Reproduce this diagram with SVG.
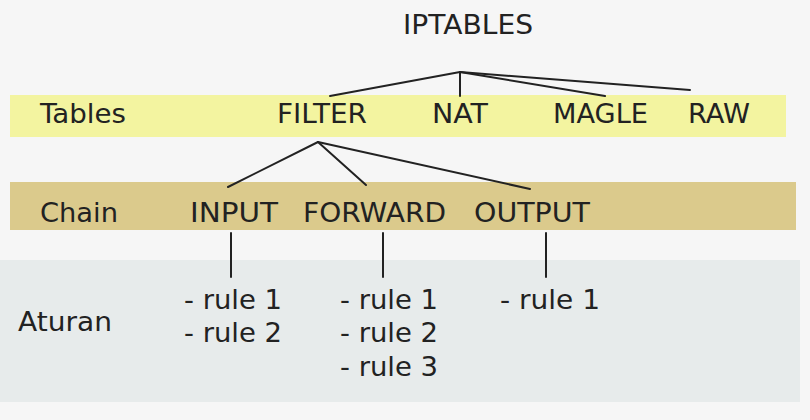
<svg xmlns="http://www.w3.org/2000/svg" width="810" height="420" viewBox="0 0 810 420">
<style>
.t{font-family:"DejaVu Sans","Liberation Sans",sans-serif;font-size:27px;fill:#222}
.c{stroke:#222;stroke-width:2;fill:none;stroke-linecap:round}
</style>
<rect x="0" y="0" width="810" height="420" fill="#f6f6f6"/>
<rect id="band-aturan" x="0" y="260" width="800" height="142" fill="#e7ebeb"/>
<rect id="band-tables" x="10" y="95" width="776" height="42" fill="#f3f4a0"/>
<rect id="band-chain" x="10" y="182" width="786" height="48" fill="#dbca8c"/>
<g id="connectors">
<line class="c" x1="460" y1="72" x2="330" y2="96"/>
<line class="c" x1="460" y1="72" x2="460" y2="96"/>
<line class="c" x1="460" y1="72" x2="605" y2="96"/>
<line class="c" x1="460" y1="72" x2="690" y2="90"/>
<line class="c" x1="318" y1="142" x2="228" y2="187"/>
<line class="c" x1="318" y1="142" x2="366" y2="185"/>
<line class="c" x1="318" y1="142" x2="530" y2="189"/>
<line class="c" x1="231" y1="233" x2="231" y2="277"/>
<line class="c" x1="383" y1="233" x2="383" y2="277"/>
<line class="c" x1="546" y1="233" x2="546" y2="277"/>
</g>
<g id="iptables"><text class="t" x="403" y="34" textLength="130" lengthAdjust="spacingAndGlyphs">IPTABLES</text></g>
<g id="label-tables"><text class="t" x="40" y="123" textLength="86" lengthAdjust="spacingAndGlyphs">Tables</text></g>
<g id="filter"><text class="t" x="277" y="123" textLength="90" lengthAdjust="spacingAndGlyphs">FILTER</text></g>
<g id="nat"><text class="t" x="432" y="123" textLength="56" lengthAdjust="spacingAndGlyphs">NAT</text></g>
<g id="magle"><text class="t" x="553" y="123" textLength="95" lengthAdjust="spacingAndGlyphs">MAGLE</text></g>
<g id="raw"><text class="t" x="688" y="123" textLength="62" lengthAdjust="spacingAndGlyphs">RAW</text></g>
<g id="label-chain"><text class="t" x="40" y="222" textLength="78" lengthAdjust="spacingAndGlyphs">Chain</text></g>
<g id="input"><text class="t" x="190" y="222" textLength="88" lengthAdjust="spacingAndGlyphs">INPUT</text></g>
<g id="forward"><text class="t" x="303" y="222" textLength="143" lengthAdjust="spacingAndGlyphs">FORWARD</text></g>
<g id="output"><text class="t" x="474" y="222" textLength="116" lengthAdjust="spacingAndGlyphs">OUTPUT</text></g>
<g id="label-aturan"><text class="t" x="18" y="331" textLength="94" lengthAdjust="spacingAndGlyphs">Aturan</text></g>
<g id="rules-input">
<text class="t" x="184" y="309" textLength="98" lengthAdjust="spacingAndGlyphs">- rule 1</text>
<text class="t" x="184" y="342" textLength="98" lengthAdjust="spacingAndGlyphs">- rule 2</text>
</g>
<g id="rules-forward">
<text class="t" x="340" y="309" textLength="98" lengthAdjust="spacingAndGlyphs">- rule 1</text>
<text class="t" x="340" y="342" textLength="98" lengthAdjust="spacingAndGlyphs">- rule 2</text>
<text class="t" x="340" y="376" textLength="98" lengthAdjust="spacingAndGlyphs">- rule 3</text>
</g>
<g id="rules-output">
<text class="t" x="500" y="309" textLength="100" lengthAdjust="spacingAndGlyphs">- rule 1</text>
</g>
</svg>
